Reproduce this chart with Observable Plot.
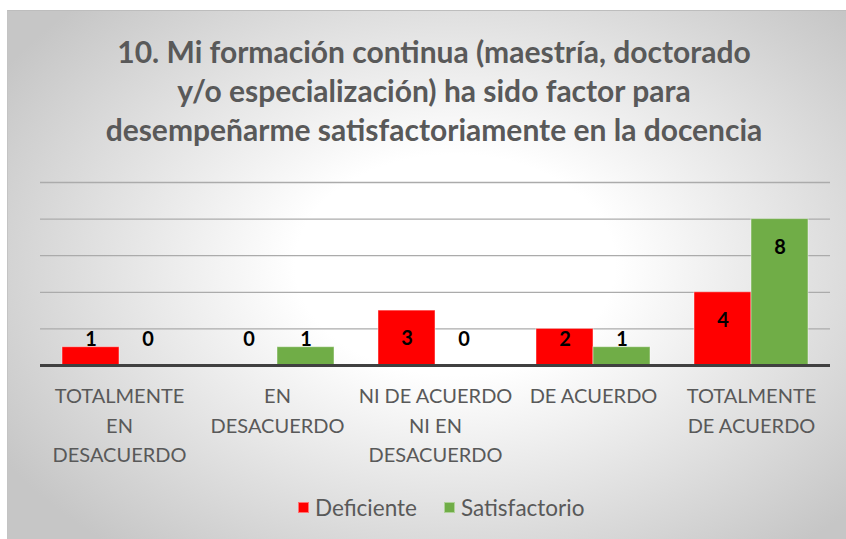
<!DOCTYPE html>
<html>
<head>
<meta charset="utf-8">
<script src="https://cdn.jsdelivr.net/npm/d3@7"></script>
<script src="https://cdn.jsdelivr.net/npm/@observablehq/plot@0.6"></script>
<style>
  html, body { margin: 0; padding: 0; background: #ffffff; }
  body { width: 846px; height: 539px; position: relative; overflow: hidden; font-family: Lato, "Open Sans", sans-serif; }
  #frame {
    position: absolute; left: 7px; top: 10px; width: 860px; height: 540px;
    border-top: 1px solid #bdbdbd; border-left: 1px solid #c4c4c4;
    background: radial-gradient(ellipse 62% 68% at 52% 47%, #ffffff 30%, #c6c6c6 100%);
  }
  #title {
    position: absolute; left: 4px; top: 32px; width: 860px; text-align: center;
    font-family: Lato, sans-serif; font-weight: bold; font-size: 30px; line-height: 39px; color: #595959;
  }
  #chart { position: absolute; left: 0; top: 0; }
  #legend {
    position: absolute; left: 298px; top: 494px; display: flex; align-items: center;
    font-family: Lato, sans-serif; font-size: 22.5px; color: #595959;
  }
  .sw { display: inline-block; width: 11px; height: 11px; margin-right: 6px; box-sizing: border-box; }
  .item { display: flex; align-items: center; margin-right: 27px; }
</style>
</head>
<body>
<div id="frame"></div>
<div id="title">10. Mi formación continua (maestría, doctorado<br>y/o especialización) ha sido factor para<br>desempeñarme satisfactoriamente en la docencia</div>
<div id="chart"></div>
<div id="legend"></div>
<script>
const categories = ["TOTALMENTE EN DESACUERDO", "EN DESACUERDO", "NI DE ACUERDO NI EN DESACUERDO", "DE ACUERDO", "TOTALMENTE DE ACUERDO"];
const categoryLabels = ["TOTALMENTE\nEN\nDESACUERDO", "EN\nDESACUERDO", "NI DE ACUERDO\nNI EN\nDESACUERDO", "DE ACUERDO", "TOTALMENTE\nDE ACUERDO"];
const series = ["Deficiente", "Satisfactorio"];
const deficiente = [1, 0, 3, 2, 4];
const satisfactorio = [0, 1, 0, 1, 8];
const colors = ["#FF0000", "#70AD47"];
const yTicks = [0, 2, 4, 6, 8, 10];

const seriesValues = [deficiente, satisfactorio];
const rows = [];
categories.forEach((c, i) => {
  series.forEach((s, j) => rows.push({category: c, series: s, value: seriesValues[j][i]}));
});

const chart = Plot.plot({
  width: 846,
  height: 539,
  marginLeft: 38,
  marginRight: 15,
  marginTop: 182,
  marginBottom: 174,
  style: {background: "transparent", fontFamily: "Lato, sans-serif"},
  fx: {domain: categories, padding: 0, label: null},
  x: {domain: series, paddingInner: 0, paddingOuter: 0.37, axis: null},
  y: {domain: [0, 10], axis: null},
  color: {domain: series, range: colors},
  marks: [
    Plot.axisFx({
      anchor: "bottom", label: null, tickSize: 0, tickPadding: 17,
      fontSize: 20, lineHeight: 1.47, fill: "#595959",
      tickFormat: d => categoryLabels[categories.indexOf(d)]
    }),
    Plot.ruleY(yTicks.filter(v => v > 0), {stroke: "#ababab", strokeWidth: 1.3}),
    Plot.barY(rows, {fx: "category", x: "series", y: "value", fill: "series", stroke: "#ffffff", strokeOpacity: 0.45, strokeWidth: 1}),
    Plot.ruleY([0], {stroke: "#404040", strokeWidth: 3}),
    Plot.text(rows, {
      fx: "category", x: "series",
      y: d => Math.max(d.value - 1.55, 1.4),
      text: d => String(d.value),
      fontWeight: "bold", fontSize: 20, fill: "#000000"
    })
  ]
});
document.getElementById("chart").appendChild(chart);

const legend = document.getElementById("legend");
series.forEach((s, j) => {
  const item = document.createElement("span");
  item.className = "item";
  const sw = document.createElement("span");
  sw.className = "sw";
  sw.style.background = colors[j];
  sw.style.border = "1px solid rgba(255,255,255,0.45)";
  item.appendChild(sw);
  item.appendChild(document.createTextNode(s));
  legend.appendChild(item);
});
</script>
</body>
</html>
